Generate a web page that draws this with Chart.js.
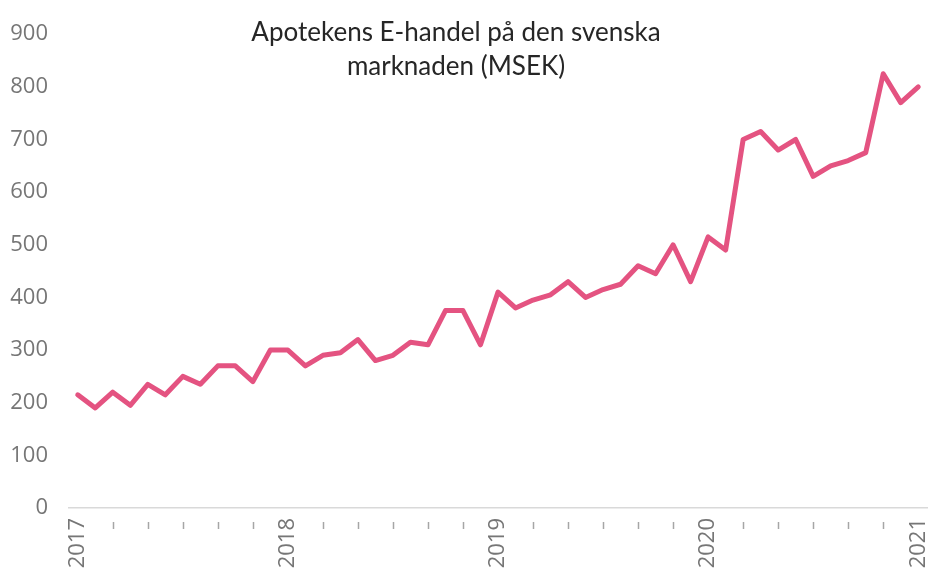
<!DOCTYPE html>
<html>
<head>
<meta charset="utf-8">
<script src="https://cdn.jsdelivr.net/npm/chart.js@4"></script>
<style>
  body { margin: 0; background: #fff; }
  #wrap { position: relative; width: 928px; height: 569px; }
  #title {
    position: absolute; left: 0; top: 14px; width: 912px;
    text-align: center; font-family: Lato, "Open Sans", sans-serif;
    font-size: 26px; line-height: 34px; color: #262626;
    pointer-events: none;
  }
</style>
</head>
<body>
<div id="wrap">
  <canvas id="myChart" width="928" height="569"></canvas>
  <div id="title">Apotekens E-handel på den svenska<br>marknaden (MSEK)</div>
</div>
<script>
const months = [
  '2017-01','2017-02','2017-03','2017-04','2017-05','2017-06','2017-07','2017-08','2017-09','2017-10','2017-11','2017-12',
  '2018-01','2018-02','2018-03','2018-04','2018-05','2018-06','2018-07','2018-08','2018-09','2018-10','2018-11','2018-12',
  '2019-01','2019-02','2019-03','2019-04','2019-05','2019-06','2019-07','2019-08','2019-09','2019-10','2019-11','2019-12',
  '2020-01','2020-02','2020-03','2020-04','2020-05','2020-06','2020-07','2020-08','2020-09','2020-10','2020-11','2020-12',
  '2021-01'
];
const sales = [
  215, 190, 220, 195, 235, 215, 250, 235, 270, 270, 240, 300,
  300, 270, 290, 295, 320, 280, 290, 315, 310, 375, 375, 310,
  410, 380, 395, 405, 430, 400, 415, 425, 460, 445, 500, 430,
  515, 490, 700, 715, 680, 700, 630, 650, 660, 675, 825, 770,
  800
];
const yMax = 900;
const yStep = 100;

const gray = '#767676';
const pink = '#e45381';

// small tick marks under the axis, every second month
const minorTicks = {
  id: 'minorTicks',
  afterDraw(chart) {
    const x = chart.scales.x;
    const ctx = chart.ctx;
    ctx.save();
    ctx.strokeStyle = '#a6a6a6';
    ctx.lineWidth = 1.5;
    months.forEach((m, i) => {
      if (i % 2 !== 0 || m.endsWith('-01')) return;
      const px = Math.round(x.getPixelForValue(i)) + 0.5;
      ctx.beginPath();
      ctx.moveTo(px, x.top + 14);
      ctx.lineTo(px, x.top + 21);
      ctx.stroke();
    });
    ctx.restore();
  }
};

const ctx = document.getElementById('myChart').getContext('2d');
new Chart(ctx, {
  type: 'line',
  data: {
    labels: months,
    datasets: [{
      data: sales,
      borderColor: pink,
      borderWidth: 5,
      borderJoinStyle: 'round',
      borderCapStyle: 'round',
      pointRadius: 0,
      tension: 0
    }]
  },
  options: {
    responsive: false,
    animation: false,
    layout: { padding: { top: 31, right: 1, left: 0, bottom: 0 } },
    plugins: { legend: { display: false }, tooltip: { enabled: false } },
    scales: {
      x: {
        offset: true,
        grid: { display: true, drawOnChartArea: false, drawTicks: false },
        border: { display: true, color: '#d9d9d9', width: 1.5 },
        ticks: {
          autoSkip: false,
          minRotation: 90,
          maxRotation: 90,
          padding: 10,
          color: gray,
          font: { family: 'Open Sans', size: 22 },
          callback: function (v, i) {
            return months[i].endsWith('-01') ? months[i].slice(0, 4) : '';
          }
        },
        afterFit: function (scale) {
          scale.height = 61;
          scale.paddingLeft = 0;
          scale.paddingRight = 0;
        }
      },
      y: {
        min: 0,
        max: yMax,
        grid: { display: false, drawTicks: false },
        border: { display: false },
        ticks: {
          stepSize: yStep,
          padding: 21,
          color: gray,
          font: { family: 'Open Sans', size: 22 }
        },
        afterFit: function (scale) {
          scale.width = 69;
        }
      }
    }
  },
  plugins: [minorTicks]
});
</script>
</body>
</html>
